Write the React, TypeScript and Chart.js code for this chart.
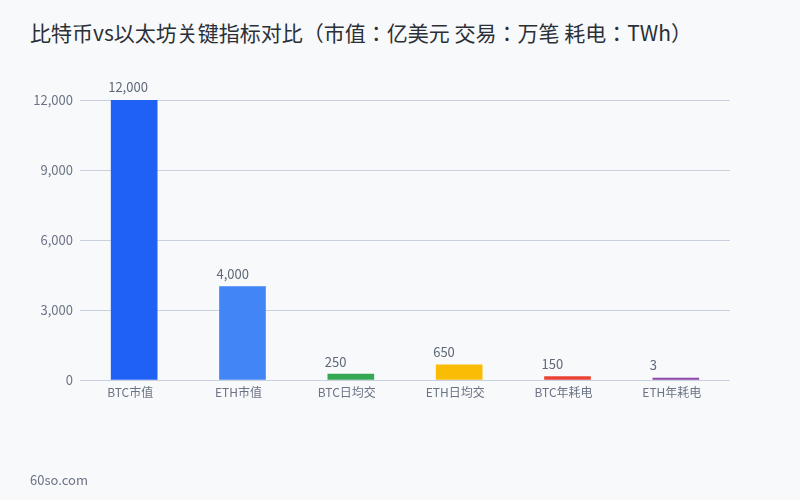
import React, { useEffect, useRef } from "react";
import { Chart, registerables } from "chart.js";

Chart.register(...registerables);

const categories = ["BTC市值", "ETH市值", "BTC日均交", "ETH日均交", "BTC年耗电", "ETH年耗电"];
const values = [12000, 4000, 250, 650, 150, 3];
const barColors = ["#1f60f5", "#4285f4", "#34a853", "#fbbc05", "#ea4335", "#8e44ad"];
const yTicks = [0, 3000, 6000, 9000, 12000];
const titleText = "比特币vs以太坊关键指标对比（市值：亿美元 交易：万笔 耗电：TWh）";
const footerText = "60so.com";

const FONT = '"Noto Sans CJK JP", "Noto Sans CJK SC", "Noto Sans", sans-serif';

const valueLabels = {
  id: "valueLabels",
  afterDatasetsDraw(chart: any) {
    const ctx = chart.ctx;
    const meta = chart.getDatasetMeta(0);
    ctx.save();
    ctx.font = `13px ${FONT}`;
    ctx.fillStyle = "#5f6878";
    ctx.textAlign = "left";
    ctx.textBaseline = "bottom";
    meta.data.forEach((el: any, i: number) => {
      const v = values[i];
      ctx.fillText(v.toLocaleString("en-US"), el.x - el.width / 2 - 3, el.y - 6);
    });
    ctx.restore();
  },
};

export default function App() {
  const ref = useRef<HTMLCanvasElement>(null);
  useEffect(() => {
    if (!ref.current) return;
    const chart = new Chart(ref.current, {
      type: "bar",
      data: {
        labels: categories,
        datasets: [
          {
            data: values,
            backgroundColor: barColors,
            barThickness: 46,
            minBarLength: 2,
          },
        ],
      },
      options: {
        animation: false,
        responsive: false,
        maintainAspectRatio: false,
        layout: { padding: { left: 30, right: 70, top: 100, bottom: 90 } },
        plugins: { legend: { display: false }, tooltip: { enabled: false } },
        scales: {
          x: {
            grid: { display: false, drawTicks: false },
            border: { display: false },
            ticks: { color: "#6b7385", font: { family: FONT, size: 12 }, padding: 5, labelOffset: -4 },
            afterFit: (s: any) => {
              s.height = 30;
            },
          },
          y: {
            min: 0,
            max: 12000,
            afterBuildTicks: (s: any) => {
              s.ticks = yTicks.map((v) => ({ value: v }));
            },
            grid: { color: "#c9d1e0", drawTicks: false },
            border: { display: false },
            ticks: {
              color: "#6b7385",
              font: { family: FONT, size: 13 },
              padding: 7,
              callback: (v: any) => Number(v).toLocaleString("en-US"),
            },
            afterFit: (s: any) => {
              s.width = 50;
            },
          },
        },
      },
      plugins: [valueLabels],
    });
    return () => chart.destroy();
  }, []);

  return (
    <div
      style={{
        position: "absolute",
        left: 0,
        top: 0,
        width: 800,
        height: 500,
        background: "#f8f9fb",
        overflow: "hidden",
        fontFamily: FONT,
      }}
    >
      <div
        style={{
          position: "absolute",
          left: 30,
          top: 20,
          fontSize: 21,
          lineHeight: "25px",
          fontWeight: 400,
          color: "#2b2f36",
          whiteSpace: "nowrap",
        }}
      >
        {titleText}
      </div>
      <canvas ref={ref} width={800} height={500} style={{ position: "absolute", left: 0, top: 0 }} />
      <div
        style={{
          position: "absolute",
          left: 30,
          top: 471,
          fontSize: 13,
          lineHeight: "18px",
          color: "#6b7385",
        }}
      >
        {footerText}
      </div>
    </div>
  );
}
